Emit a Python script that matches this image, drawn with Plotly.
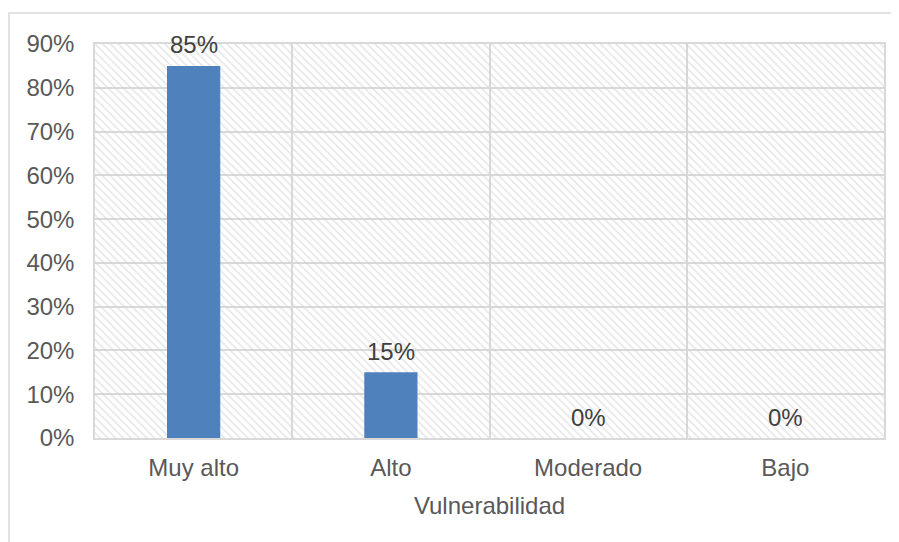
import plotly.graph_objects as go

categories = ["Muy alto", "Alto", "Moderado", "Bajo"]
values = [0.85, 0.15, 0.0, 0.0]
y_max = 0.9
y_ticks = [0.0, 0.1, 0.2, 0.3, 0.4, 0.5, 0.6, 0.7, 0.8, 0.9]
x_title = "Vulnerabilidad"

# page body has an 8px margin, so the figure is placed at (8, 8)
OFF = 8
W, H = 899 - OFF, 542 - OFF
L, T = 95 - OFF, 44 - OFF
R = W - (884 - OFF)
B = H - (438 - OFF)
pw, ph = W - L - R, H - T - B

FONT = "Liberation Sans, Arial"
FS = 24
fig = go.Figure()
# hatched plot-area background
fig.add_trace(go.Bar(
    x=categories, y=[y_max] * len(categories), width=1,
    marker=dict(color="rgba(0,0,0,0)", line=dict(width=0),
                pattern=dict(shape="\\", fgcolor="#CFCFCF", bgcolor="rgba(0,0,0,0)",
                             fillmode="overlay", size=5.5, solidity=0.3)),
    hoverinfo="skip", showlegend=False,
))
fig.add_trace(go.Bar(
    x=categories, y=values, width=0.27,
    marker=dict(color="#4F81BD", line=dict(width=0)),
    hoverinfo="x+y", showlegend=False,
))
for c, v in zip(categories, values):
    fig.add_annotation(x=c, y=v, text=f"{v:.0%}", showarrow=False,
                       yanchor="middle", yshift=21,
                       font=dict(size=FS, color="#404040", family=FONT))

def px_x(p):
    return (p - OFF - L) / pw

def px_y(p):
    return (H + OFF - B - p) / ph

fig.add_shape(type="rect", xref="paper", yref="paper",
              x0=px_x(9), x1=px_x(960), y0=px_y(13), y1=px_y(600),
              line=dict(color="#D9D9D9", width=1.5), fillcolor="rgba(0,0,0,0)", layer="below")

fig.update_layout(
    width=W, height=H, barmode="overlay",
    margin=dict(l=L, r=R, t=T, b=B),
    paper_bgcolor="white", plot_bgcolor="white",
    font=dict(family=FONT, size=FS, color="#595959"),
    xaxis=dict(type="category", tickson="boundaries", showgrid=True,
               gridcolor="#D9D9D9", gridwidth=1.5, showline=True, mirror=True,
               linecolor="#D9D9D9", linewidth=1.5,
               ticks="", ticklabelstandoff=7,
               tickfont=dict(size=FS),
               title=dict(text=x_title, font=dict(size=FS, color="#595959"), standoff=18)),
    yaxis=dict(range=[0, y_max], tickvals=y_ticks, tickformat=".0%",
               showgrid=True, gridcolor="#D9D9D9", gridwidth=1.5,
               showline=True, mirror=True, linecolor="#D9D9D9", linewidth=1.5,
               zeroline=False, ticks="outside", ticklen=14, tickcolor="rgba(0,0,0,0)",
               tickfont=dict(size=FS)),
)

fig.write_html("out.html")
